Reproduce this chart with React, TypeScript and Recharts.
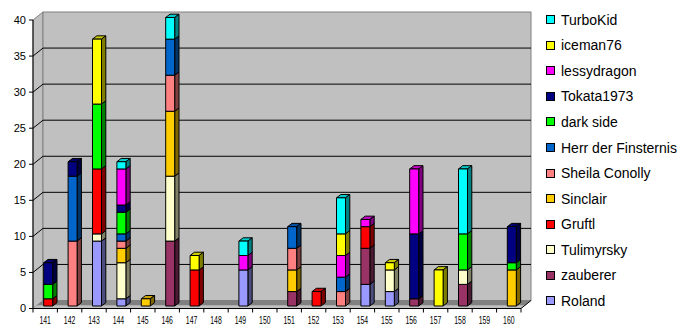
import { ComposedChart, Bar, XAxis, YAxis, CartesianGrid } from "recharts";

const categories = ["141", "142", "143", "144", "145", "146", "147", "148", "149", "150", "151", "152", "153", "154", "155", "156", "157", "158", "159", "160"];

// stack order, bottom to top
const roland = [0, 0, 9, 1, 0, 0, 0, 0, 5, 0, 0, 0, 0, 3, 2, 0, 0, 0, 0, 0];
const zauberer = [0, 0, 0, 0, 0, 9, 0, 0, 0, 0, 2, 0, 0, 5, 0, 1, 0, 3, 0, 0];
const tulimyrsky = [0, 0, 1, 5, 0, 9, 0, 0, 0, 0, 0, 0, 0, 0, 3, 0, 0, 2, 0, 0];
const gruftl = [1, 0, 9, 0, 0, 0, 5, 0, 0, 0, 0, 2, 0, 3, 0, 0, 0, 0, 0, 0];
const sinclair = [0, 0, 0, 2, 1, 9, 0, 0, 0, 0, 3, 0, 0, 0, 0, 0, 0, 0, 0, 5];
const sheila = [0, 9, 0, 1, 0, 5, 0, 0, 0, 0, 3, 0, 2, 0, 0, 0, 0, 0, 0, 0];
const herr = [0, 9, 0, 1, 0, 5, 0, 0, 0, 0, 3, 0, 2, 0, 0, 0, 0, 0, 0, 0];
const darkSide = [2, 0, 9, 3, 0, 0, 0, 0, 0, 0, 0, 0, 0, 0, 0, 0, 0, 5, 0, 1];
const tokata = [3, 2, 0, 1, 0, 0, 0, 0, 0, 0, 0, 0, 0, 0, 0, 9, 0, 0, 0, 5];
const lessy = [0, 0, 0, 5, 0, 0, 0, 0, 2, 0, 0, 0, 3, 1, 0, 9, 0, 0, 0, 0];
const iceman = [0, 0, 9, 0, 0, 0, 2, 0, 0, 0, 0, 0, 3, 0, 1, 0, 5, 0, 0, 0];
const turbo = [0, 0, 0, 1, 0, 3, 0, 0, 2, 0, 0, 0, 5, 0, 0, 0, 0, 9, 0, 0];

const seriesNames = ["Roland", "zauberer", "Tulimyrsky", "Gruftl", "Sinclair", "Sheila Conolly", "Herr der Finsternis", "dark side", "Tokata1973", "lessydragon", "iceman76", "TurboKid"];
const seriesValues = [roland, zauberer, tulimyrsky, gruftl, sinclair, sheila, herr, darkSide, tokata, lessy, iceman, turbo];
const seriesColors = ["#9999ff", "#993366", "#ffffcc", "#ff0000", "#ffcc00", "#ff8080", "#0066cc", "#00ff00", "#000080", "#ff00ff", "#ffff00", "#00ffff"];

const yTicks = [0, 5, 10, 15, 20, 25, 30, 35, 40];

const data = categories.map((cat, i) => {
  const row: Record<string, string | number> = { cat };
  seriesValues.forEach((vals, s) => {
    row["s" + s] = vals[i];
  });
  return row;
});

const FONT = "'Liberation Sans', Arial, sans-serif";
const WALL_DX = 10;
const WALL_DY = 8;
const BAND = 24.4;

function shade(hex: string, k: number) {
  const n = parseInt(hex.slice(1), 16);
  const r = Math.round(((n >> 16) & 255) * k);
  const g = Math.round(((n >> 8) & 255) * k);
  const b = Math.round((n & 255) * k);
  return `rgb(${r},${g},${b})`;
}

function Box3D(props: any) {
  const { x, y, width, height, fill } = props;
  if (!height || height <= 0) return <g />;
  const fx = x + 2.7;
  const fy = y - 2.5;
  const w = width;
  const h = height;
  const dx = 4.3;
  const dy = 3.3;
  return (
    <g stroke="#000" strokeWidth={1} strokeLinejoin="round">
      <polygon points={`${fx},${fy} ${fx + dx},${fy - dy} ${fx + w + dx},${fy - dy} ${fx + w},${fy}`} fill={shade(fill, 0.8)} />
      <polygon points={`${fx + w},${fy} ${fx + w + dx},${fy - dy} ${fx + w + dx},${fy + h - dy} ${fx + w},${fy + h}`} fill={shade(fill, 0.5)} />
      <rect x={fx} y={fy} width={w} height={h} fill={fill} />
    </g>
  );
}

// side wall, back wall and floor of the 3D box, drawn behind the grid lines
function Walls({ x, y, w, h }: { x: number; y: number; w: number; h: number }) {
  const b = y + h;
  return (
    <g>
      <polygon points={`${x},${y} ${x + WALL_DX},${y - WALL_DY} ${x + WALL_DX},${b - WALL_DY} ${x},${b}`} fill="#c0c0c0" stroke="#808080" />
      <rect x={x + WALL_DX} y={y - WALL_DY} width={w} height={h} fill="#c0c0c0" stroke="#808080" />
      <polygon points={`${x},${b} ${x + w},${b} ${x + w + 3.75},${b - 3} ${x + 3.75},${b - 3}`} fill="#c0c0c0" />
      <polygon points={`${x + 3.75},${b - 3} ${x + w + 3.75},${b - 3} ${x + w + WALL_DX},${b - WALL_DY} ${x + WALL_DX},${b - WALL_DY}`} fill="#808080" />
      <line x1={x + w} y1={b} x2={x + w + WALL_DX} y2={b - WALL_DY} stroke="#000" />
    </g>
  );
}

function GridLine(p: any) {
  const { x1, y1, x2, x, y, width, height, key, index } = p;
  const top = y ?? 20;
  const h = height ?? 288.5;
  const bottom = top + h;
  const skip = Math.abs(y1 - bottom) < 1 || Math.abs(y1 - top) < 1;
  return (
    <g key={key}>
      {index === 0 && <Walls x={x ?? x1} y={top} w={width ?? x2 - x1} h={h} />}
      {!skip && (
        <path d={`M${x1},${y1}L${x1 + WALL_DX},${y1 - WALL_DY}L${x2 + WALL_DX},${y1 - WALL_DY}`} stroke="#000" strokeWidth={1} fill="none" />
      )}
    </g>
  );
}

function XTick(props: any) {
  const { x, y, payload, index } = props;
  const left = x - BAND / 2;
  return (
    <g>
      <line x1={left} y1={y} x2={left} y2={y + 4} stroke="#000" />
      {index === categories.length - 1 && <line x1={x + BAND / 2} y1={y} x2={x + BAND / 2} y2={y + 4} stroke="#000" />}
      <text x={x} y={y + 15.5} textAnchor="middle" fontSize={10.5} fontFamily={FONT} fill="#000" textLength={11.5} lengthAdjust="spacingAndGlyphs">
        {payload.value}
      </text>
    </g>
  );
}

function Legend() {
  const items = seriesNames.map((name, i) => ({ name, color: seriesColors[i] })).reverse();
  return (
    <div style={{ position: "absolute", left: 546, top: 7, fontFamily: FONT, fontSize: 14, color: "#000" }}>
      {items.map((it) => (
        <div key={it.name} style={{ display: "flex", alignItems: "center", height: 25.55, whiteSpace: "nowrap" }}>
          <span style={{ display: "inline-block", width: 7, height: 7, background: it.color, border: "1px solid #000", marginRight: 6 }} />
          <span>{it.name}</span>
        </div>
      ))}
    </div>
  );
}

export default function App() {
  return (
    <div style={{ position: "absolute", left: 0, top: 0, width: 690, height: 335, background: "#fff" }}>
      <ComposedChart width={690} height={335} data={data} margin={{ top: 20, right: 169, bottom: 0, left: 0 }}>
        <CartesianGrid vertical={false} horizontal={(p: any) => GridLine(p)} />
        <XAxis dataKey="cat" height={26.5} axisLine={{ stroke: "#000" }} tickLine={false} tickSize={0} tickMargin={0} tick={<XTick />} interval={0} />
        <YAxis
          width={33}
          domain={[0, 40]}
          ticks={yTicks}
          interval={0}
          axisLine={{ stroke: "#000" }}
          tickLine={{ stroke: "#000" }}
          tickSize={4}
          tickMargin={3}
          tick={{ fontSize: 11, fontFamily: FONT, fill: "#000" }}
        />
        {seriesNames.map((name, s) => (
          <Bar key={name} dataKey={"s" + s} name={name} stackId="a" fill={seriesColors[s]} barSize={9} shape={(p: any) => <Box3D {...p} />} isAnimationActive={false} />
        ))}
      </ComposedChart>
      <Legend />
    </div>
  );
}
